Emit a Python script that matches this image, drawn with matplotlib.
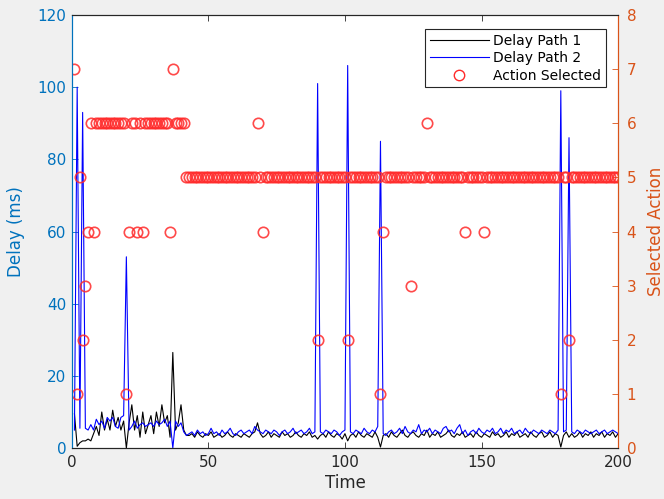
#!/usr/bin/env python3
"""Plot per-step delay of two paths together with the action chosen at each step."""

import matplotlib

matplotlib.use("Agg")
import matplotlib.pyplot as plt
from matplotlib.lines import Line2D

# time steps 1..200
time = list(range(1, 201))

delay_path1 = [
    9.5, 0.5, 1.5, 2.0, 2.0, 2.5, 2.0, 4.0, 6.0, 3.5,
    10.0, 5.0, 8.0, 5.0, 10.5, 6.0, 8.5, 5.0, 7.5, 0.0,
    7.0, 12.0, 5.0, 9.0, 3.0, 10.0, 4.0, 6.5, 9.0, 4.0,
    10.0, 6.0, 12.0, 7.0, 9.0, 3.0, 26.5, 5.0, 7.0, 12.0,
    5.0, 3.5, 3.5, 4.0, 3.0, 4.5, 3.5, 3.0, 4.0, 3.5,
    4.5, 3.0, 3.5, 4.0, 3.0, 3.5, 4.5, 3.5, 3.0, 4.0,
    3.5, 3.0, 4.0, 3.5, 3.0, 4.0, 4.5, 7.0, 4.0, 3.0,
    3.5, 4.5, 3.0, 4.0, 3.5, 3.0, 4.5, 3.5, 4.0, 3.0,
    3.5, 4.5, 3.5, 3.0, 4.0, 3.5, 4.5, 3.0, 3.5, 2.5,
    3.5, 4.0, 3.0, 4.5, 3.5, 3.0, 4.0, 3.5, 2.5, 4.0,
    2.0, 3.5, 4.0, 3.0, 4.5, 3.5, 3.0, 4.0, 3.5, 3.0,
    4.5, 3.0, 0.3, 3.5, 4.0, 3.0, 4.5, 3.5, 3.0, 4.0,
    5.0, 3.5, 3.0, 4.0, 4.5, 3.5, 3.0, 4.0, 3.5, 5.0,
    3.0, 4.0, 3.5, 4.5, 3.0, 3.5, 4.0, 5.0, 3.5, 3.0,
    4.0, 3.5, 4.5, 3.0, 3.5, 4.0, 3.0, 4.5, 3.5, 3.0,
    4.0, 3.5, 3.0, 4.5, 3.5, 4.0, 3.0, 3.5, 4.5, 3.0,
    4.0, 3.5, 4.5, 3.0, 3.5, 4.0, 3.0, 4.5, 3.5, 3.0,
    4.0, 4.5, 3.0, 3.5, 4.5, 3.0, 4.0, 3.5, 0.3, 3.5,
    4.5, 3.0, 4.0, 3.0, 3.5, 4.5, 3.0, 4.0, 3.5, 4.5,
    3.0, 4.0, 3.5, 4.5, 3.0, 4.0, 3.5, 4.5, 3.0, 4.0,
]

delay_path2 = [
    5.0, 100.0, 5.5, 93.0, 5.5, 5.0, 6.5, 5.0, 8.0, 6.5,
    7.5, 5.5, 8.5, 7.5, 8.5, 6.0, 5.5, 8.5, 9.0, 53.0,
    5.0, 6.0, 7.5, 5.5, 6.5, 7.0, 6.0, 6.5, 7.0, 6.0,
    7.5, 6.5, 7.0, 8.0, 6.0, 7.5, 0.0, 7.5, 6.0, 7.0,
    4.5, 3.5, 4.0, 4.5, 3.5, 5.0, 4.0, 4.5, 3.5, 4.0,
    5.5, 4.0, 4.5, 3.5, 5.0, 4.0, 4.5, 5.5, 4.0, 3.5,
    4.5, 5.0, 4.0, 4.5, 5.0, 4.0, 6.0, 5.0, 4.5, 4.0,
    5.0, 4.5, 4.0, 5.0, 4.5, 3.5, 4.5, 5.0, 4.0, 4.5,
    5.5, 4.0, 4.5, 5.0, 4.0, 4.5, 5.5, 4.0, 4.5, 101.0,
    4.5, 4.0, 5.0, 4.5, 4.0, 5.0, 4.5, 3.5, 4.5, 5.0,
    106.0, 4.5, 4.0, 5.0, 4.5, 4.0, 5.5, 4.5, 4.0, 5.0,
    4.5, 6.0, 85.0, 4.0, 3.5, 4.5, 5.0, 4.0, 4.5, 5.5,
    4.0, 6.0, 4.5, 4.0, 5.0, 4.5, 6.5, 4.0, 5.0, 4.5,
    5.5, 4.0, 5.0, 4.5, 4.0, 5.5, 6.0, 4.5, 5.0, 4.0,
    5.5, 6.5, 4.0, 5.0, 3.5, 4.5, 5.0, 4.0, 5.5, 4.5,
    4.0, 5.0, 4.5, 5.5, 4.0, 4.5, 5.5, 4.0, 5.0, 4.5,
    5.5, 4.0, 4.5, 5.0, 4.0, 5.5, 4.5, 4.0, 5.0, 4.5,
    4.0, 5.0, 4.5, 4.0, 5.0, 4.5, 4.0, 5.0, 99.0, 4.5,
    5.0, 86.0, 4.5, 4.0, 5.0, 4.5, 4.0, 5.0, 4.5, 4.0,
    4.5, 5.0, 4.0, 4.5, 5.0, 4.0, 4.5, 5.0, 4.5, 4.0,
]

actions = [
    7, 1, 5, 2, 3, 4, 6, 4, 6, 6, 6, 6, 6, 6, 6, 6, 6, 6, 6, 1,
    4, 6, 6, 4, 6, 4, 6, 6, 6, 6, 6, 6, 6, 6, 6, 4, 7, 6, 6, 6,
    6, 5, 5, 5, 5, 5, 5, 5, 5, 5, 5, 5, 5, 5, 5, 5, 5, 5, 5, 5,
    5, 5, 5, 5, 5, 5, 5, 6, 5, 4, 5, 5, 5, 5, 5, 5, 5, 5, 5, 5,
    5, 5, 5, 5, 5, 5, 5, 5, 5, 2, 5, 5, 5, 5, 5, 5, 5, 5, 5, 5,
    2, 5, 5, 5, 5, 5, 5, 5, 5, 5, 5, 5, 1, 4, 5, 5, 5, 5, 5, 5,
    5, 5, 5, 3, 5, 5, 5, 5, 5, 6, 5, 5, 5, 5, 5, 5, 5, 5, 5, 5,
    5, 5, 5, 4, 5, 5, 5, 5, 5, 5, 4, 5, 5, 5, 5, 5, 5, 5, 5, 5,
    5, 5, 5, 5, 5, 5, 5, 5, 5, 5, 5, 5, 5, 5, 5, 5, 5, 5, 1, 5,
    5, 2, 5, 5, 5, 5, 5, 5, 5, 5, 5, 5, 5, 5, 5, 5, 5, 5, 5, 5,
]

LEFT_COLOR = "#0072BD"
RIGHT_COLOR = "#D95319"
DARK = "#262626"
MARKER_RED = "#FF2A2A"

fig = plt.figure(figsize=(6.64, 4.99), dpi=100, facecolor="#F0F0F0")
ax1 = fig.add_axes([0.108, 0.102, 0.823, 0.868])
ax2 = ax1.twinx()

ax1.plot(time, delay_path1, color="k", linewidth=0.8)
ax1.plot(time, delay_path2, color="b", linewidth=0.8)
ax2.plot(
    time, actions, linestyle="none", marker="o", markersize=7.5,
    markerfacecolor="none", markeredgecolor=MARKER_RED, markeredgewidth=1.2,
    alpha=0.85,
)

ax1.set_xlim(0, 200)
ax1.set_ylim(0, 120)
ax2.set_ylim(0, 8)
ax1.set_xticks([0, 50, 100, 150, 200])
ax1.set_yticks(range(0, 121, 20))
ax2.set_yticks(range(0, 9))

ax1.set_xlabel("Time", fontsize=12, color=DARK, labelpad=3)
ax1.set_ylabel("Delay (ms)", fontsize=12, color=LEFT_COLOR, labelpad=9)
ax2.set_ylabel("Selected Action", fontsize=12, color=RIGHT_COLOR, labelpad=8)

ax1.tick_params(axis="x", direction="in", top=True, length=4, labelsize=11,
                colors=DARK, width=0.6, pad=5)
ax1.tick_params(axis="y", direction="in", length=4, labelsize=11,
                colors=LEFT_COLOR, width=0.6, pad=4)
ax2.tick_params(axis="y", direction="in", length=4, labelsize=11,
                colors=RIGHT_COLOR, width=0.6, pad=6)

for ax in (ax1, ax2):
    ax.spines["top"].set_color(DARK)
    ax.spines["bottom"].set_color(DARK)
    ax.spines["left"].set_color(LEFT_COLOR)
    ax.spines["right"].set_color(RIGHT_COLOR)
    for s in ax.spines.values():
        s.set_linewidth(0.8)

handles = [
    Line2D([], [], color="k", linewidth=0.8),
    Line2D([], [], color="b", linewidth=0.8),
    Line2D([], [], linestyle="none", marker="o", markersize=7.5,
           markerfacecolor="none", markeredgecolor=MARKER_RED, markeredgewidth=1.0),
]
leg = ax2.legend(
    handles, ["Delay Path 1", "Delay Path 2", "Action Selected"],
    loc="upper right", bbox_to_anchor=(0.977, 0.968), fontsize=10,
    handlelength=4.2, handletextpad=0.3, labelspacing=0.25,
    borderpad=0.35, borderaxespad=0.0, fancybox=False, framealpha=1.0,
)
leg.get_frame().set_edgecolor(DARK)
leg.get_frame().set_linewidth(0.8)

fig.savefig("out.png", dpi=100, facecolor=fig.get_facecolor())
